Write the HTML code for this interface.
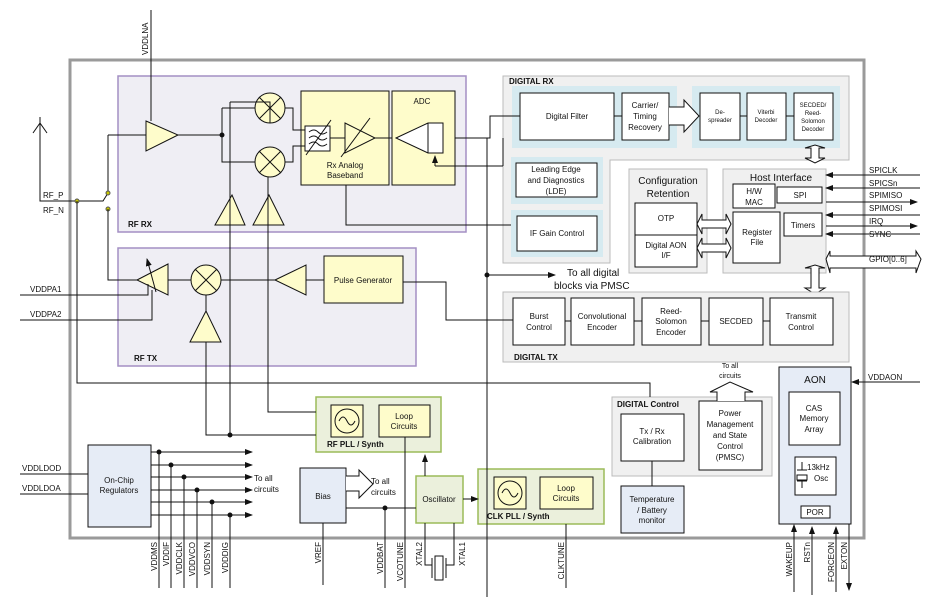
<!DOCTYPE html>
<html><head><meta charset="utf-8"><style>
html,body{margin:0;padding:0;background:#fff}
svg{display:block;font-family:"Liberation Sans",Arial,sans-serif}
text{fill:#111}
</style></head><body>
<svg width="937" height="603" viewBox="0 0 937 603" xmlns="http://www.w3.org/2000/svg">
<defs>
<marker id="ar" markerWidth="8" markerHeight="8" refX="7" refY="4" orient="auto" markerUnits="userSpaceOnUse"><path d="M0,1 L8,4 L0,7z" fill="#111"/></marker>
</defs>
<g fill="none" stroke="#111" stroke-width="1">
<rect x="70" y="60" width="794" height="478" stroke="#9a9a9a" stroke-width="3"/>
<rect x="118" y="76" width="348" height="156" fill="#efeef4" stroke="#a48fc4" stroke-width="1.5"/>
<rect x="118" y="248" width="298" height="118" fill="#efeef4" stroke="#a48fc4" stroke-width="1.5"/>
<rect x="301" y="91" width="88" height="94" fill="#fefccb"/>
<rect x="392" y="91" width="63" height="94" fill="#fefccb"/>
<rect x="324" y="256" width="79" height="47" fill="#fefccb"/>
<path d="M503,76 H849 V160 H610 V263 H503 Z" fill="#f0f0f0" stroke="#bbb"/>
<rect x="512" y="86" width="165" height="62" fill="#d6eaf0" stroke="none"/>
<rect x="692" y="86" width="148" height="62" fill="#d6eaf0" stroke="none"/>
<rect x="511" y="157" width="92" height="47" fill="#d6eaf0" stroke="none"/>
<rect x="511" y="210" width="92" height="47" fill="#d6eaf0" stroke="none"/>
<rect x="520" y="93" width="94" height="47" fill="#fff"/>
<rect x="622" y="93" width="47" height="47" fill="#fff"/>
<rect x="700" y="93" width="40" height="47" fill="#fff"/>
<rect x="747" y="93" width="39" height="47" fill="#fff"/>
<rect x="794" y="93" width="39" height="47" fill="#fff"/>
<path d="M614,116H622M740,116H747M786,116H794"/>
<path d="M669,107H684V100L699,116L684,132V125H669" fill="#fff"/>
<rect x="516" y="163" width="81" height="34" fill="#fff"/>
<rect x="517" y="216" width="80" height="35" fill="#fff"/>
<rect x="629" y="169" width="78" height="104" fill="#f0f0f0" stroke="#bbb"/>
<rect x="635" y="203" width="62" height="64" fill="#fff"/>
<path d="M635,235H697"/>
<rect x="723" y="169" width="103" height="104" fill="#f0f0f0" stroke="#bbb"/>
<rect x="733" y="184" width="42" height="24" fill="#fff"/>
<rect x="777" y="187" width="45" height="16" fill="#fff"/>
<rect x="733" y="212" width="47" height="51" fill="#fff"/>
<rect x="784" y="213" width="38" height="23" fill="#fff"/>
<path d="M697,224L702,214V220H726V214L731,224L726,234V228H702V234Z" fill="#fff"/>
<path d="M697,248L702,238V244H726V238L731,248L726,258V252H702V258Z" fill="#fff"/>
<path d="M805,148L815,145L825,148H819V158H825L815,163L805,158H811V148Z" fill="#fff"/>
<path d="M805,268L815,265L825,268H819V288H825L815,294L805,288H811V268Z" fill="#fff"/>
<path d="M826,259L830,251V256H916V251L921,259L916,273V268H830V273Z" fill="#fff"/>
<rect x="503" y="292" width="346" height="70" fill="#f0f0f0" stroke="#bbb"/>
<rect x="513" y="298" width="52" height="47" fill="#fff"/>
<rect x="571" y="298" width="63" height="47" fill="#fff"/>
<rect x="642" y="298" width="59" height="47" fill="#fff"/>
<rect x="709" y="298" width="54" height="47" fill="#fff"/>
<rect x="770" y="298" width="63" height="47" fill="#fff"/>
<path d="M565,321H571M634,321H642M701,321H709M763,321H770"/>
<rect x="612" y="397" width="160" height="79" fill="#f0f0f0" stroke="#bbb"/>
<rect x="621" y="414" width="63" height="47" fill="#fff"/>
<rect x="699" y="401" width="63" height="69" fill="#fff"/>
<rect x="621" y="486" width="63" height="47" fill="#e6ecf6"/>
<path d="M652,461V486"/>
<path d="M717,401V392H710L730,382L753,392H745V401" fill="#fff"/>
<rect x="779" y="367" width="72" height="157" fill="#e6ecf6"/>
<rect x="789" y="392" width="51" height="53" fill="#fff"/>
<rect x="795" y="457" width="41" height="38" fill="#fff"/>
<rect x="801" y="506" width="29" height="12" fill="#fff"/>
<path d="M802,462V470M797,470H807M797,475H807V480H797ZM797,481H807M802,481V488"/>
<rect x="316" y="397" width="125" height="55" fill="#ebf0dc" stroke="#9bbb59" stroke-width="1.5"/>
<rect x="331" y="405" width="32" height="32" fill="#fefccb"/>
<circle cx="347" cy="421" r="12"/>
<path d="M339,421Q343,413 347,421T355,421"/>
<rect x="379" y="405" width="51" height="32" fill="#fefccb"/>
<rect x="478" y="469" width="126" height="55" fill="#ebf0dc" stroke="#9bbb59" stroke-width="1.5"/>
<rect x="494" y="477" width="32" height="32" fill="#fefccb"/>
<circle cx="510" cy="493" r="12"/>
<path d="M502,493Q506,485 510,493T518,493"/>
<rect x="540" y="477" width="53" height="32" fill="#fefccb"/>
<rect x="416" y="476" width="47" height="47" fill="#ebf0dc" stroke="#9bbb59" stroke-width="1.5"/>
<rect x="300" y="468" width="46" height="55" fill="#e6ecf6"/>
<path d="M346,476H359V470L373,484L359,498V491H346" fill="#fff"/>
<rect x="88" y="445" width="63" height="82" fill="#e6ecf6"/>
<path d="M151,10V121"/>
<path d="M146,121L178,135L146,151Z" fill="#fefccb"/>
<path d="M178,135H222M222,108V162H255M222,108H255"/>
<circle cx="222" cy="135" r="2" fill="#111"/>
<circle cx="270" cy="108" r="15" fill="#fefccb"/><path d="M259,97L281,119M281,97L259,119"/>
<circle cx="270" cy="162" r="15" fill="#fefccb"/><path d="M259,151L281,173M281,151L259,173"/>
<path d="M285,108H293V130H305M285,162H293V146H305"/>
<rect x="305" y="126" width="25" height="25" fill="#fff"/>
<path d="M309,132Q314,128 318,132T327,132M309,138Q314,134 318,138T327,138M309,144Q314,140 318,144T327,144M306,155L331,120"/>
<path d="M330,138H345M345,123L375,138L345,153Z" fill="#fefccb"/>
<path d="M341,157L370,118M375,138H392"/>
<path d="M396,138L428,123H443V153H428Z" fill="#fff"/><path d="M428,123V153"/>
<path d="M455,138H490V116H520"/>
<path d="M435,166V156" marker-end="url(#ar)"/>
<path d="M435,166H503"/>
<path d="M346,185V225H511M470,225H511M503,166V138"/>
<path d="M232,195L215,225H245Z" fill="#fefccb"/>
<path d="M269,195L253,225H284Z" fill="#fefccb"/>
<path d="M230,102H270V123M230,102V435M268,177V412H316"/>
<path d="M40,123L33,133M40,123L47,133M40,117V201H103L108,193M108,135H146M108,135V193"/>
<circle cx="77" cy="201" r="2" fill="#c8c800" stroke="#555"/>
<circle cx="108" cy="193" r="2" fill="#c8c800" stroke="#555"/>
<circle cx="108" cy="209" r="2" fill="#c8c800" stroke="#555"/>
<path d="M108,209V280H137M77,201V383H650V397"/>
<path d="M137,280L168,264V295Z" fill="#fefccb"/>
<path d="M156,292L147,259" marker-end="url(#ar)"/>
<path d="M20,295H148V284M20,320H152V290"/>
<path d="M168,280H191"/>
<circle cx="206" cy="280" r="15" fill="#fefccb"/><path d="M195,269L217,291M217,269L195,291"/>
<path d="M221,280H275M275,280L306,265V295Z" fill="#fefccb"/>
<path d="M306,280H324M206,295V311"/>
<path d="M206,311L190,342H221Z" fill="#fefccb"/>
<path d="M206,342V435H316M403,282H446V320H513"/>
<circle cx="230" cy="435" r="2" fill="#111"/>
<path d="M487,138V597"/>
<path d="M487,275H555" marker-end="url(#ar)"/>
<circle cx="487" cy="275" r="2" fill="#111"/>
<path d="M20,474H88M20,494H88"/>
<g marker-end="url(#ar)">
<path d="M151,452H252"/><path d="M151,465H252"/><path d="M151,477H252"/><path d="M151,490H252"/><path d="M151,502H252"/><path d="M151,515H252"/>
</g>
<path d="M159,452V588M171,465V588M184,477V588M197,490V588M212,502V588M230,515V588"/>
<g fill="#111"><circle cx="159" cy="452" r="2"/><circle cx="171" cy="465" r="2"/><circle cx="184" cy="477" r="2"/><circle cx="197" cy="490" r="2"/><circle cx="212" cy="502" r="2"/><circle cx="230" cy="515" r="2"/><circle cx="385" cy="508" r="2"/></g>
<path d="M323,523V585M346,508H416M385,508V588M405,437V588"/>
<path d="M425,476V455" marker-end="url(#ar)"/>
<path d="M425,523V565H432M454,523V565H446M432,558V578M446,558V578"/>
<rect x="435" y="556" width="8" height="24"/>
<path d="M463,499H478" marker-end="url(#ar)"/>
<path d="M566,524V588"/>
<g marker-end="url(#ar)">
<path d="M920,175H826"/><path d="M920,188H826"/><path d="M920,215H826"/><path d="M920,234H826"/>
<path d="M826,202H917"/><path d="M826,226H917"/>
<path d="M920,382H852"/>
<path d="M794,592V525"/><path d="M812,595V527"/><path d="M836,592V527"/>
<path d="M849,524V590"/>
</g>
</g>
<g font-size="8">
<text transform="translate(148,55) rotate(-90)">VDDLNA</text>
<text x="43" y="198">RF_P</text><text x="43" y="213">RF_N</text>
<text x="128" y="227" font-weight="bold">RF RX</text>
<text x="134" y="361" font-weight="bold">RF TX</text>
<text x="422" y="104" text-anchor="middle">ADC</text>
<text x="345" y="168" text-anchor="middle">Rx Analog</text><text x="345" y="178" text-anchor="middle">Baseband</text>
<text x="363" y="283" text-anchor="middle">Pulse Generator</text>
<text x="30" y="292">VDDPA1</text><text x="30" y="317">VDDPA2</text>
<text x="509" y="84" font-weight="bold">DIGITAL RX</text>
<text x="567" y="119" text-anchor="middle">Digital Filter</text>
<text x="645" y="108" text-anchor="middle">Carrier/</text><text x="645" y="119" text-anchor="middle">Timing</text><text x="645" y="130" text-anchor="middle">Recovery</text>
<text x="720" y="114" text-anchor="middle" font-size="6">De-</text><text x="720" y="122" text-anchor="middle" font-size="6">spreader</text>
<text x="766" y="114" text-anchor="middle" font-size="6">Viterbi</text><text x="766" y="122" text-anchor="middle" font-size="6">Decoder</text>
<text x="813" y="107" text-anchor="middle" font-size="6">SECDED/</text><text x="813" y="115" text-anchor="middle" font-size="6">Reed-</text><text x="813" y="123" text-anchor="middle" font-size="6">Solomon</text><text x="813" y="131" text-anchor="middle" font-size="6">Decoder</text>
<text x="556" y="172" text-anchor="middle">Leading Edge</text><text x="556" y="183" text-anchor="middle">and Diagnostics</text><text x="556" y="194" text-anchor="middle">(LDE)</text>
<text x="557" y="236" text-anchor="middle">IF Gain Control</text>
<text x="668" y="184" text-anchor="middle" font-size="10">Configuration</text><text x="668" y="197" text-anchor="middle" font-size="10">Retention</text>
<text x="666" y="221" text-anchor="middle">OTP</text>
<text x="666" y="248" text-anchor="middle">Digital AON</text><text x="666" y="258" text-anchor="middle">I/F</text>
<text x="781" y="181" text-anchor="middle" font-size="10">Host Interface</text>
<text x="754" y="194" text-anchor="middle">H/W</text><text x="754" y="205" text-anchor="middle">MAC</text>
<text x="800" y="198" text-anchor="middle">SPI</text>
<text x="757" y="235" text-anchor="middle">Register</text><text x="757" y="245" text-anchor="middle">File</text>
<text x="803" y="228" text-anchor="middle">Timers</text>
<text x="869" y="173">SPICLK</text><text x="869" y="186">SPICSn</text><text x="869" y="198">SPIMISO</text><text x="869" y="211">SPIMOSI</text><text x="869" y="224">IRQ</text><text x="869" y="237">SYNC</text>
<text x="869" y="262">GPIO[0..6]</text>
<text x="567" y="276" font-size="10">To all digital</text><text x="554" y="289" font-size="10">blocks via PMSC</text>
<text x="539" y="319" text-anchor="middle">Burst</text><text x="539" y="330" text-anchor="middle">Control</text>
<text x="602" y="319" text-anchor="middle">Convolutional</text><text x="602" y="330" text-anchor="middle">Encoder</text>
<text x="671" y="314" text-anchor="middle">Reed-</text><text x="671" y="324" text-anchor="middle">Solomon</text><text x="671" y="335" text-anchor="middle">Encoder</text>
<text x="736" y="324" text-anchor="middle">SECDED</text>
<text x="801" y="319" text-anchor="middle">Transmit</text><text x="801" y="330" text-anchor="middle">Control</text>
<text x="514" y="360" font-weight="bold">DIGITAL TX</text>
<text x="730" y="368" text-anchor="middle" font-size="7">To all</text><text x="730" y="378" text-anchor="middle" font-size="7">circuits</text>
<text x="617" y="407" font-weight="bold">DIGITAL Control</text>
<text x="652" y="434" text-anchor="middle">Tx / Rx</text><text x="652" y="444" text-anchor="middle">Calibration</text>
<text x="730" y="416" text-anchor="middle">Power</text><text x="730" y="427" text-anchor="middle">Management</text><text x="730" y="438" text-anchor="middle">and State</text><text x="730" y="449" text-anchor="middle">Control</text><text x="730" y="460" text-anchor="middle">(PMSC)</text>
<text x="652" y="502" text-anchor="middle">Temperature</text><text x="652" y="513" text-anchor="middle">/ Battery</text><text x="652" y="523" text-anchor="middle">monitor</text>
<text x="815" y="383" text-anchor="middle" font-size="10">AON</text>
<text x="814" y="411" text-anchor="middle">CAS</text><text x="814" y="421" text-anchor="middle">Memory</text><text x="814" y="432" text-anchor="middle">Array</text>
<text x="807" y="470">13kHz</text><text x="814" y="481">Osc</text>
<text x="815" y="515" text-anchor="middle">POR</text>
<text x="868" y="380">VDDAON</text>
<text x="404" y="419" text-anchor="middle">Loop</text><text x="404" y="429" text-anchor="middle">Circuits</text>
<text x="327" y="447" font-weight="bold">RF PLL / Synth</text>
<text x="566" y="491" text-anchor="middle">Loop</text><text x="566" y="501" text-anchor="middle">Circuits</text>
<text x="487" y="519" font-weight="bold">CLK PLL / Synth</text>
<text x="439" y="502" text-anchor="middle">Oscillator</text>
<text x="323" y="499" text-anchor="middle">Bias</text>
<text x="371" y="484">To all</text><text x="371" y="495">circuits</text>
<text x="254" y="481">To all</text><text x="254" y="492">circuits</text>
<text x="119" y="483" text-anchor="middle">On-Chip</text><text x="119" y="493" text-anchor="middle">Regulators</text>
<text x="22" y="471">VDDLDOD</text><text x="22" y="491">VDDLDOA</text>
<g text-anchor="end">
<text transform="translate(157,542) rotate(-90)">VDDMS</text>
<text transform="translate(169,542) rotate(-90)">VDDIF</text>
<text transform="translate(182,542) rotate(-90)">VDDCLK</text>
<text transform="translate(195,542) rotate(-90)">VDDVCO</text>
<text transform="translate(210,542) rotate(-90)">VDDSYN</text>
<text transform="translate(228,542) rotate(-90)">VDDDIG</text>
<text transform="translate(321,542) rotate(-90)">VREF</text>
<text transform="translate(383,542) rotate(-90)">VDDBAT</text>
<text transform="translate(403,542) rotate(-90)">VCOTUNE</text>
<text transform="translate(422,542) rotate(-90)">XTAL2</text>
<text transform="translate(465,542) rotate(-90)">XTAL1</text>
<text transform="translate(564,542) rotate(-90)">CLKTUNE</text>
<text transform="translate(792,542) rotate(-90)">WAKEUP</text>
<text transform="translate(810,542) rotate(-90)">RSTn</text>
<text transform="translate(834,542) rotate(-90)">FORCEON</text>
<text transform="translate(847,542) rotate(-90)">EXTON</text>
</g>
</g>
</svg>
</body></html>
